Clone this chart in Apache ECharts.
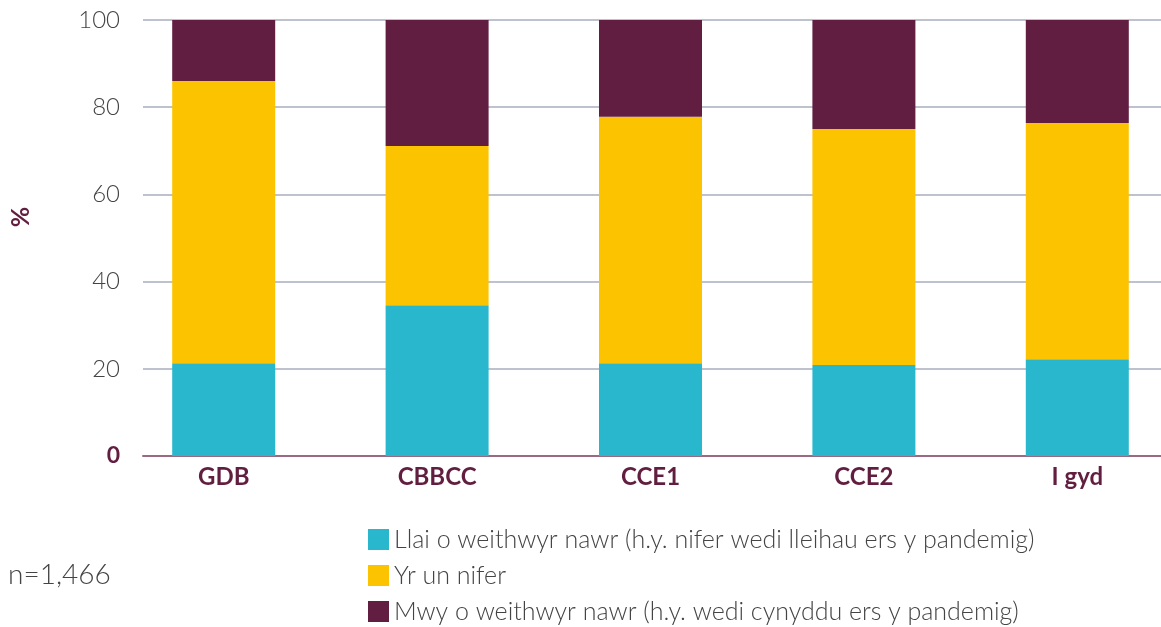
<!DOCTYPE html>
<html>
<head>
<meta charset="utf-8">
<script src="https://cdn.jsdelivr.net/npm/echarts@6/dist/echarts.min.js"></script>
<style>
html,body{margin:0;padding:0;background:#fff;overflow:hidden;}
#chart{width:1190px;height:627px;}
</style>
</head>
<body>
<div id="chart"></div>
<script>
var categories = ['GDB', 'CBBCC', 'CCE1', 'CCE2', 'I gyd'];
var seriesNames = [
    'Llai o weithwyr nawr (h.y. nifer wedi lleihau ers y pandemig)',
    'Yr un nifer',
    'Mwy o weithwyr nawr (h.y. wedi cynyddu ers y pandemig)'
];
var llai = [21.3, 34.6, 21.3, 20.9, 22.2];
var yrUn = [64.7, 36.5, 56.5, 54.1, 54.2];
var mwy = [14.0, 28.9, 22.2, 25.0, 23.6];
var colours = ['#29b7cd', '#fcc300', '#621e40'];

var mychart = echarts.init(document.getElementById('chart'));
var font = 'Lato';

function bar(name, data, colour) {
    return {
        name: name,
        type: 'bar',
        stack: 'all',
        xAxisIndex: 0,
        yAxisIndex: 0,
        barWidth: 103,
        itemStyle: { color: colour },
        data: data
    };
}

option = {
    textStyle: { fontFamily: font },
    animation: false,
    grid: [
        { left: 117, width: 1067, top: 20, bottom: 171 },
        { left: 142, right: 29, top: 20, bottom: 171 }
    ],
    xAxis: [
        {
            type: 'category',
            gridIndex: 0,
            data: categories,
            axisLine: { show: false },
            axisTick: { show: false },
            axisLabel: { color: '#621e40', fontWeight: 'bold', fontSize: 24, margin: 9, fontFamily: font }
        },
        {
            type: 'value',
            gridIndex: 1,
            min: 0, max: 1,
            axisLine: { show: true, onZero: false, lineStyle: { color: '#9a6a82', width: 2 } },
            axisTick: { show: false },
            axisLabel: { show: false },
            splitLine: { show: false }
        }
    ],
    yAxis: [
        { type: 'value', gridIndex: 0, min: 0, max: 100, show: false },
        {
            type: 'value',
            gridIndex: 1,
            min: 0, max: 100, interval: 20,
            name: '%',
            nameLocation: 'middle',
            nameRotate: 90,
            nameGap: 110,
            nameTextStyle: { color: '#621e40', fontWeight: 'bold', fontSize: 25, fontFamily: font, padding: [0, 0, 0, 42] },
            axisLine: { show: false },
            axisTick: { show: false },
            axisLabel: {
                margin: 23,
                fontSize: 24,
                color: '#444',
                fontWeight: 300,
                fontFamily: font,
                formatter: function (v) { return v === 0 ? '{z|0}' : String(v); },
                rich: { z: { color: '#621e40', fontWeight: 'bold', fontSize: 23, fontFamily: font } }
            },
            splitLine: { lineStyle: { color: '#a8aebf', width: 1.5 } }
        }
    ],
    legend: {
        orient: 'vertical',
        left: 363,
        top: 522,
        height: 105,
        itemWidth: 21,
        itemHeight: 21,
        itemGap: 11,
        icon: 'rect',
        data: seriesNames,
        textStyle: { fontSize: 25, color: '#444', fontWeight: 300, fontFamily: font }
    },
    graphic: [
        {
            type: 'text',
            left: 8,
            top: 561,
            style: { text: 'n=1,466', fontSize: 28, fill: '#444', fontWeight: 300, fontFamily: font }
        }
    ],
    series: [
        bar(seriesNames[0], llai, colours[0]),
        bar(seriesNames[1], yrUn, colours[1]),
        bar(seriesNames[2], mwy, colours[2])
    ]
};
mychart.setOption(option);
</script>
</body>
</html>
